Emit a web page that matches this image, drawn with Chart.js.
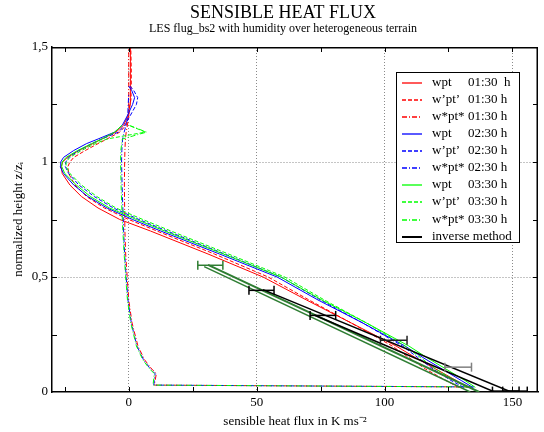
<!DOCTYPE html>
<html>
<head>
<meta charset="utf-8">
<script src="https://cdn.jsdelivr.net/npm/chart.js@4.4.1/dist/chart.umd.min.js"></script>
<style>
    html, body { margin: 0; padding: 0; background: #fff; }
</style>
</head>
<body>
<canvas id="fluxChart" width="544" height="432"></canvas>
<script>
// LES output levels (z/zi) for total and resolved flux
const zLes = [0.02, 0.05, 0.1, 0.15, 0.2, 0.3, 0.4, 0.5, 0.6, 0.7, 0.75, 0.8, 0.85, 0.9, 0.95, 0.98, 1.0, 1.02, 1.05, 1.08, 1.1, 1.13, 1.16, 1.2, 1.25, 1.28, 1.31, 1.33, 1.4, 1.5];

// total flux wpt
const wpt0130 = [132.5, 128, 120, 112, 104.5, 87, 69.5, 52.5, 31, 8.5, -3.5, -12, -18.5, -23, -26, -26.4, -25.8, -24, -19.5, -14, -10.5, -5, -2, -0.3, 0.5, 0.8, 0.5, 0.6, 0.8, 0.5];
const wpt0230 = [134.5, 130, 122.5, 115, 108, 91.5, 74, 58, 35.5, 12.5, 1.5, -8.5, -16, -21.5, -25.5, -26.8, -26.6, -25.5, -21.5, -16.5, -12, -5.5, -2.5, -0.6, 1.5, 2.3, 1.2, 0, null, null];
const wpt0330 = [135.5, 131.5, 124, 116.5, 109.5, 93, 75.5, 59.5, 37, 14, 3, -7.5, -15, -20.5, -25, -26.2, -26, -24.5, -20, -14.5, -10.5, -5.5, -2.6, null, null, null, null, null, null, null];

// resolved flux w'pt'
const wres0130 = [129, 124, 116, 109.5, 103, 87, 70.5, 54.5, 33.5, 11, 0, -9.5, -16.5, -21, -23.5, -23.8, -23, -21.5, -17, -12, -8.5, -3.5, -1, 0, 0.5, 1, 0.8, 1, 1, 0.8];
const wres0230 = [131, 126, 119, 113, 107, 91.5, 75, 59.5, 37.5, 15, 4, -6, -13.5, -19.5, -23.5, -24.8, -24.6, -23.5, -19.5, -14.5, -10.5, -4, -1.5, 0.5, 3, 3.5, 2, 0.5, null, null];
const wres0330 = [132, 127.5, 120, 114, 108, 93, 76.5, 61, 39, 16.5, 5.5, -5, -12.5, -18.5, -23, -24.5, -24.5, -23, -18.5, -13, -8.5, 6.5, 0, null, null, null, null, null, null, null];

// subgrid flux w*pt* (own levels)
const zSgs = [0.022, 0.03, 0.08, 0.1, 0.14, 0.2, 0.3, 0.4, 0.5, 0.6, 0.7, 0.8, 0.9, 1.0, 1.05, 1.1, 1.13, 1.16, 1.2, 1.3, 1.4, 1.5];
const wsgs0130 = [133, 10, 10.8, 9, 6.2, 3.6, 1.3, 0, -0.6, -1.2, -1.5, -1.6, -1.7, -1.6, -1.5, -1.3, -1, -0.5, 0, 0, 0, 0];
const wsgs0230 = [135, 9.8, 10.3, 8.5, 5.8, 3.2, 1, -0.3, -1, -1.6, -2, -2.3, -2.6, -2.8, -2.7, -2.4, -1.8, -1, -0.4, 0, null, null];
const wsgs0330 = [134, 9.5, 10, 8.2, 5.5, 3, 0.8, -0.5, -1.2, -1.8, -2.3, -2.7, -3, -3.2, -3.1, -2.5, 7, 0, null, null, null, null];

// inverse method: straight profiles from a top point down to the ground
const invTopFlux = [52.5, 72.5, 31, 29.5];
const invTopZ = [0.445, 0.335, 0.553, 0.545];
const invGroundFlux = [149.5, 143, 137, 133.5];

// inverse method error bars
const errFlux = [31.9, 51.9, 75.9, 103.6, 128.8, 147.4, 151];
const errHalf = [4.9, 4.9, 5, 5.2, 5.2, 5.2, 4.8];
const errZ = [0.551, 0.442, 0.333, 0.225, 0.108, 0.004, 0.004];

// legend text
const legendNames = ['wpt', 'w’pt’', 'w*pt*', 'wpt', 'w’pt’', 'w*pt*', 'wpt', 'w’pt’', 'w*pt*', 'inverse method'];
const legendTimes = ['01:30  h', '01:30 h', '01:30 h', '02:30 h', '02:30 h', '02:30 h', '03:30 h', '03:30 h', '03:30 h', ''];

// styles
const RED = '#ff0000', BLUE = '#0000ff', GREEN = '#00ff00';
const DARK_GREEN = '#2e7d32';
const DASH = [4, 2];
const DASH_DOT = [5, 2, 1, 2];
const INV_COLORS = ['#000000', '#000000', DARK_GREEN, DARK_GREEN];
const INV_WIDTHS = [1.5, 1.5, 2, 1.5];
const ERR_COLORS = [DARK_GREEN, '#000000', '#000000', '#222222', '#808080', '#000000', '#000000'];

Chart.defaults.font.family = "'Liberation Serif', 'Times New Roman', serif";
Chart.defaults.color = '#000';

function profile(label, flux, heights, color, dash) {
    const data = [];
    flux.forEach((v, i) => {
        if (v !== null) data.push({ x: v, y: heights[i] });
    });
    return {
        label: label,
        data: data,
        showLine: true,
        borderColor: color,
        borderWidth: 1,
        borderDash: dash,
        pointRadius: 0
    };
}

// LES profiles in legend order
const legendSets = [
    profile('wpt 01:30', wpt0130, zLes, RED, []),
    profile('wres 01:30', wres0130, zLes, RED, DASH),
    profile('wsgs 01:30', wsgs0130, zSgs, RED, DASH_DOT),
    profile('wpt 02:30', wpt0230, zLes, BLUE, []),
    profile('wres 02:30', wres0230, zLes, BLUE, DASH),
    profile('wsgs 02:30', wsgs0230, zSgs, BLUE, DASH_DOT),
    profile('wpt 03:30', wpt0330, zLes, GREEN, []),
    profile('wres 03:30', wres0330, zLes, GREEN, DASH),
    profile('wsgs 03:30', wsgs0330, zSgs, GREEN, DASH_DOT)
];

const inverseSets = invTopFlux.map((f, i) => ({
    label: 'inverse ' + i,
    data: [{ x: f, y: invTopZ[i] }, { x: invGroundFlux[i], y: 0 }],
    showLine: true,
    borderColor: INV_COLORS[i],
    borderWidth: INV_WIDTHS[i],
    borderDash: [],
    pointRadius: 0
}));
legendSets.push(inverseSets[0]);

const errorSets = errFlux.map((c, i) => ({
    label: 'error ' + i,
    data: [{ x: c - errHalf[i], y: errZ[i] }, { x: c + errHalf[i], y: errZ[i] }],
    showLine: true,
    borderColor: ERR_COLORS[i],
    borderWidth: 1.5,
    pointStyle: 'line',
    pointRotation: 90,
    pointRadius: 4.5,
    pointBorderWidth: 1.5,
    pointBorderColor: ERR_COLORS[i]
}));

// first dataset is drawn on top
const datasets = [...errorSets, ...inverseSets, ...legendSets.slice(0, 9).reverse()];

function drawLegend(ctx) {
    const left = 396, top = 72, width = 123, height = 170;
    ctx.fillStyle = '#fff';
    ctx.fillRect(left, top, width, height);
    ctx.strokeStyle = '#000';
    ctx.lineWidth = 1;
    ctx.setLineDash([]);
    ctx.strokeRect(left + 0.5, top + 0.5, width, height);
    ctx.font = "13px 'Liberation Serif'";
    ctx.textBaseline = 'middle';
    ctx.textAlign = 'left';
    legendSets.forEach((ds, i) => {
        const y = Math.round(top + 10.7 + i * 17.1);
        ctx.strokeStyle = ds.borderColor;
        ctx.lineWidth = ds.borderWidth === 1 ? 1.3 : 2;
        ctx.setLineDash(ds.borderDash);
        ctx.beginPath();
        ctx.moveTo(left + 6, y);
        ctx.lineTo(left + 26, y);
        ctx.stroke();
        ctx.setLineDash([]);
        ctx.fillStyle = '#000';
        ctx.fillText(legendNames[i], left + 36, y);
        if (legendTimes[i]) ctx.fillText(legendTimes[i], left + 72, y);
    });
}

// box on top/right, inward tick marks, legend
const framePlugin = {
    id: 'frame',
    afterDraw(chart) {
        const { ctx, chartArea: area, scales } = chart;
        const xs = scales.x, ys = scales.y;
        ctx.save();
        ctx.strokeStyle = '#000';
        ctx.lineWidth = 1.5;
        ctx.beginPath();
        ctx.moveTo(area.left, area.top + 0.75);
        ctx.lineTo(area.right - 0.75, area.top + 0.75);
        ctx.lineTo(area.right - 0.75, area.bottom);
        ctx.stroke();

        ctx.lineWidth = 1;
        ctx.beginPath();
        xs.ticks.forEach(t => {
            const px = Math.round(xs.getPixelForValue(t.value)) + 0.5;
            ctx.moveTo(px, area.bottom);
            ctx.lineTo(px, area.bottom - 5);
            ctx.moveTo(px, area.top);
            ctx.lineTo(px, area.top + 5);
        });
        ys.ticks.forEach(t => {
            if (t.value <= ys.min || t.value >= ys.max) return;
            const py = Math.round(ys.getPixelForValue(t.value)) + 0.5;
            ctx.moveTo(area.left, py);
            ctx.lineTo(area.left + 5, py);
            ctx.moveTo(area.right, py);
            ctx.lineTo(area.right - 5, py);
        });
        ctx.stroke();

        drawLegend(ctx);
        ctx.restore();
    }
};

const GRID = '#8a8a8a';

new Chart(document.getElementById('fluxChart'), {
    type: 'scatter',
    data: { datasets: datasets },
    options: {
        responsive: false,
        animation: false,
        layout: { padding: { left: 22, right: 0, top: 0, bottom: 0 } },
        plugins: {
            legend: { display: false },
            tooltip: { enabled: false },
            title: {
                display: true,
                text: 'SENSIBLE HEAT FLUX',
                color: '#000',
                font: { size: 18, weight: 'normal' },
                padding: { top: 2, bottom: 0 }
            },
            subtitle: {
                display: true,
                text: 'LES flug_bs2 with humidity over heterogeneous terrain',
                color: '#000',
                font: { size: 12 },
                padding: { top: -2, bottom: 11 }
            }
        },
        scales: {
            x: {
                type: 'linear',
                min: -30,
                max: 160,
                afterFit(scale) { scale.height = 40; },
                ticks: {
                    stepSize: 25,
                    includeBounds: false,
                    autoSkip: false,
                    maxRotation: 0,
                    padding: 3,
                    font: { size: 13 },
                    callback: v => (v % 50 === 0 ? v : '')
                },
                grid: {
                    drawTicks: false,
                    lineWidth: 1,
                    color: c => (c.tick && c.tick.value % 50 === 0 ? GRID : 'rgba(0,0,0,0)')
                },
                border: { display: true, color: '#000', width: 1.5, dash: [1, 2] },
                title: {
                    display: true,
                    text: 'sensible heat flux in K ms⁻²',
                    font: { size: 13 },
                    padding: { top: 0, bottom: 2.5 }
                }
            },
            y: {
                type: 'linear',
                min: 0,
                max: 1.5,
                afterFit(scale) { scale.width = 30; },
                ticks: {
                    stepSize: 0.25,
                    includeBounds: false,
                    autoSkip: false,
                    padding: 4,
                    font: { size: 13 },
                    callback: v => (Math.abs(v * 2 - Math.round(v * 2)) < 1e-9 ? String(v).replace('.', ',') : '')
                },
                grid: {
                    drawTicks: false,
                    lineWidth: 1,
                    color: c => (c.tick && (c.tick.value === 0.5 || c.tick.value === 1) ? GRID : 'rgba(0,0,0,0)')
                },
                border: { display: true, color: '#000', width: 1.5, dash: [1, 2] },
                title: {
                    display: true,
                    text: 'normalized height z/zᵢ',
                    font: { size: 13 },
                    padding: { top: -11, bottom: 0 }
                }
            }
        }
    },
    plugins: [framePlugin]
});
</script>
</body>
</html>
